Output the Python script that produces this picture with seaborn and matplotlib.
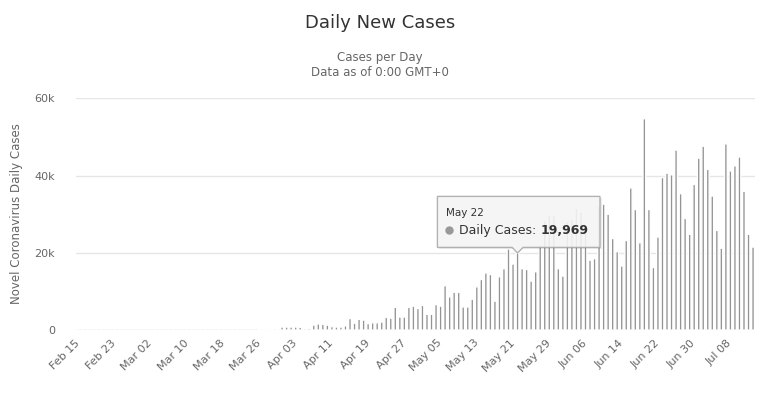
import numpy as np
import pandas as pd
import matplotlib.pyplot as plt
import seaborn as sns
from matplotlib.patches import Polygon

# daily new cases, one value per day starting Feb 15
start_date = "2020-02-15"
daily_cases = [
    0, 0, 0, 0, 0, 0, 0, 0, 0, 0,                    # Feb 15 - Feb 24
    0, 0, 0, 0, 0, 0, 0, 0, 0, 0,                    # Feb 25 - Mar 05
    0, 0, 0, 0, 0, 0, 0, 0, 0, 0,                    # Mar 06 - Mar 15
    0, 0, 0, 0, 0, 0, 0, 0, 0, 0,                    # Mar 16 - Mar 25
    250, 300, 250, 50, 50,                           # Mar 26 - Mar 30
    800, 800, 800, 800, 750, 400, 450, 1300, 1600, 1500,          # Mar 31 - Apr 09
    1300, 900, 800, 800, 1100, 3000, 1800, 2800, 2600, 1700,      # Apr 10 - Apr 19
    1900, 1900, 2100, 3300, 3100, 5900, 3400, 3400, 5900, 6200,   # Apr 20 - Apr 29
    5600, 6400, 4100, 4100, 6600, 6200, 11500, 8600, 9800, 9800,  # Apr 30 - May 09
    6000, 6000, 8000, 11200, 13100, 14800, 14400, 7500, 13800, 15900,   # May 10 - May 19
    21000, 17100, 19969, 15900, 15700, 12700, 15100, 22000, 28400, 29700,  # May 20 - May 29
    29700, 15900, 14000, 28000, 28600, 31400, 30500, 27000, 18100, 18500,  # May 30 - Jun 08
    32100, 32600, 30000, 23700, 20300,                                     # Jun 09 - Jun 13
    16600, 23200, 36800, 31200, 22600, 54700, 31200, 16200, 24100, 39500,  # Jun 14 - Jun 23
    40600, 40200, 46600, 35300, 28900, 24800, 37700, 44500, 47600, 41600,  # Jun 24 - Jul 03
    34700, 25800, 21200, 48200, 41200, 42500, 44800, 35900, 24800, 21500,  # Jul 04 - Jul 13
]
tick_labels = ["Feb 15", "Feb 23", "Mar 02", "Mar 10", "Mar 18", "Mar 26", "Apr 03",
               "Apr 11", "Apr 19", "Apr 27", "May 05", "May 13", "May 21", "May 29",
               "Jun 06", "Jun 14", "Jun 22", "Jun 30", "Jul 08"]
y_ticks = [0, 20000, 40000, 60000]
y_tick_labels = ["0", "20k", "40k", "60k"]
hover_label = "May 22"
hover_value = 19969

df = pd.DataFrame({"date": pd.date_range(start_date, periods=len(daily_cases)),
                   "cases": daily_cases})
df["day"] = df["date"].dt.strftime("%b %d")

sns.set_style("white")
plt.rcParams["font.family"] = ["DejaVu Sans"]

fig = plt.figure(figsize=(7.79, 3.93), dpi=100)
ax = fig.add_axes([0.0976, 0.160, 0.872, 0.590])

sns.barplot(data=df, x="day", y="cases", color="#949494", saturation=1,
            width=0.6, ax=ax)
# no pixel snapping, so every bar gets the same width
for bar in ax.patches:
    bar.set_snap(False)

ax.set_xlim(-0.5, len(daily_cases) - 0.5)
ax.set_ylim(0, 60000)
ax.set_yticks(y_ticks)
ax.set_yticklabels(y_tick_labels)
ax.set_xticks(range(0, len(daily_cases), 8))
ax.set_xticklabels(tick_labels, rotation=45, ha="right", va="center",
                   rotation_mode="anchor")
ax.tick_params(axis="both", length=0, colors="#666666", labelsize=8)
ax.tick_params(axis="x", pad=8)
ax.tick_params(axis="y", pad=15)
ax.set_xlabel("")
ax.set_ylabel("")
ax.yaxis.grid(True, color="#e6e6e6", lw=1)
ax.set_axisbelow(True)
sns.despine(ax=ax, left=True, bottom=True)
ax.axhline(0, color="#d8d8d8", lw=1, zorder=0.5)

# titles
fig.text(380 / 779, 1 - 23 / 393, "Daily New Cases", ha="center", va="center",
         fontsize=13, color="#333333")
fig.text(380 / 779, 1 - 57 / 393, "Cases per Day", ha="center", va="center",
         fontsize=8.5, color="#666666")
fig.text(380 / 779, 1 - 73 / 393, "Data as of 0:00 GMT+0", ha="center", va="center",
         fontsize=8.5, color="#666666")
fig.text(17 / 779, 1 - 214 / 393, "Novel Coronavirus Daily Cases", rotation=90,
         ha="center", va="center", fontsize=8.5, color="#666666")

# hover tooltip
hx = df.index[df["day"] == hover_label][0]
x0, x1 = hx - 17.7, hx + 18.2
y0, y1 = 21400, 34600
tooltip = Polygon([(x0, y1), (x1, y1), (x1, y0), (hx + 1.2, y0), (hx, hover_value),
                   (hx - 1.2, y0), (x0, y0)], closed=True,
                  facecolor="#f7f7f7", edgecolor="#a8a8a8", lw=1, alpha=0.88, zorder=5)
shadow = Polygon([(x0 + 0.4, y1 - 400), (x1 + 0.4, y1 - 400), (x1 + 0.4, y0 - 400),
                  (x0 + 0.4, y0 - 400)], closed=True, facecolor="#000000",
                 edgecolor="none", alpha=0.08, zorder=4.9)
ax.add_patch(shadow)
ax.add_patch(tooltip)
ax.text(x0 + 1.8, 30200, hover_label, fontsize=7.5, color="#333333",
        va="center", ha="left", zorder=6)
ax.plot([x0 + 2.6], [25900], marker="o", ms=5, color="#999999", zorder=6)
t1 = ax.text(x0 + 4.8, 25900, "Daily Cases: ", fontsize=9, color="#333333",
             va="center", ha="left", zorder=6)
ax.annotate(f"{hover_value:,}", xy=(1, 0), xycoords=t1, va="bottom", ha="left",
            fontsize=9, fontweight="bold", color="#333333", zorder=6)

fig.savefig("out.png", dpi=100)
